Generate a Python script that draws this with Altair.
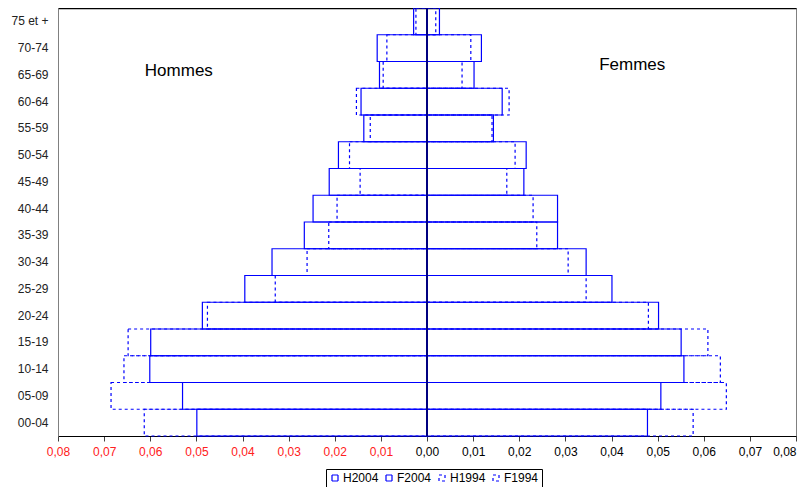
import altair as alt
import pandas as pd

ages = ["00-04", "05-09", "10-14", "15-19", "20-24", "25-29", "30-34", "35-39",
        "40-44", "45-49", "50-54", "55-59", "60-64", "65-69", "70-74", "75 et +"]
h2004 = [0.0499, 0.0530, 0.0601, 0.0599, 0.0487, 0.0395, 0.0336, 0.0266,
         0.0247, 0.0212, 0.0192, 0.0137, 0.0143, 0.0103, 0.0108, 0.0029]
f2004 = [0.0478, 0.0507, 0.0557, 0.0551, 0.0502, 0.0401, 0.0345, 0.0283,
         0.0283, 0.0210, 0.0215, 0.0144, 0.0163, 0.0102, 0.0118, 0.0027]
h1994 = [0.0613, 0.0685, 0.0657, 0.0648, 0.0476, 0.0329, 0.0260, 0.0213,
         0.0195, 0.0145, 0.0168, 0.0123, 0.0153, 0.0095, 0.0087, 0.0024]
f1994 = [0.0577, 0.0649, 0.0636, 0.0609, 0.0480, 0.0345, 0.0306, 0.0238,
         0.0230, 0.0173, 0.0191, 0.0141, 0.0178, 0.0076, 0.0095, 0.0019]
series = ["H2004", "F2004", "H1994", "F1994"]
tick_values = [-0.08, -0.07, -0.06, -0.05, -0.04, -0.03, -0.02, -0.01, 0.0,
               0.01, 0.02, 0.03, 0.04, 0.05, 0.06, 0.07, 0.08]
notes = ["Hommes", "Femmes"]
note_x = [-0.0538, 0.0445]
note_age = ["65-69", "65-69"]

rows = []
for name, vals, sign in [("H2004", h2004, -1), ("F2004", f2004, 1),
                         ("H1994", h1994, -1), ("F1994", f1994, 1)]:
    for a, v in zip(ages, vals):
        rows.append({"age": a, "series": name, "value": sign * v})
df = pd.DataFrame(rows)

FONT = "Liberation Sans"
xscale = alt.Scale(domain=[-0.08, 0.08], nice=False, zero=False)
yscale = alt.Scale(paddingInner=0, paddingOuter=0)
ysort = list(reversed(ages))

bars = alt.Chart(df).mark_bar(fill="white", fillOpacity=0).encode(
    x=alt.X("value:Q", scale=xscale, stack=None,
            axis=alt.Axis(values=tick_values, title=None, grid=False,
                          labelExpr="replace(format(abs(datum.value), '.2f'), '.', ',')",
                          labelColor={"condition": {"test": "datum.value < 0", "value": "#ff2020"},
                                      "value": "#000000"},
                          labelAlign={"condition": {"test": "datum.value > 0.0795", "value": "right"},
                                      "value": "center"},
                          labelFont=FONT, labelFontSize=12, domainColor="#000000",
                          tickColor="#404040", tickSize=5, labelPadding=5,
                          labelFlush=False)),
    y=alt.Y("age:N", sort=ysort, scale=yscale,
            axis=alt.Axis(title=None, ticks=False, domainColor="#808080",
                          labelFont=FONT, labelFontSize=12, labelColor="#222222",
                          labelPadding=10, minExtent=50, maxExtent=50)),
    stroke=alt.Stroke("series:N", sort=series,
                      scale=alt.Scale(domain=series,
                                      range=["#0000ff", "#0000ff", "#0000ff", "#0000ff"]),
                      legend=alt.Legend(title=None, orient="none", direction="horizontal",
                                        legendX=268, legendY=461, strokeColor="#000000",
                                        padding=3, labelFont=FONT, labelFontSize=12,
                                        symbolType="square", symbolSize=36,
                                        symbolStrokeWidth=1.5, symbolFillColor="white",
                                        columnPadding=4, labelOffset=2)),
    strokeDash=alt.StrokeDash("series:N", sort=series,
                              scale=alt.Scale(domain=series,
                                              range=[[1, 0], [1, 0], [3, 3], [3, 3]])),
    strokeWidth=alt.StrokeWidth("series:N", sort=series,
                                scale=alt.Scale(domain=series, range=[1.2, 1.2, 2.2, 2.2]),
                                legend=None),
    order=alt.Order("order:Q"),
).transform_calculate(order="indexof(['H2004','F2004','H1994','F1994'], datum.series)")

center = alt.Chart(pd.DataFrame({"x": [0.0]})).mark_rule(
    color="#000080", strokeWidth=2).encode(
    x=alt.X("x:Q", scale=xscale,
            axis=alt.Axis(orient="top", labels=False, ticks=False, title=None,
                          grid=False, domainColor="#000000", domainWidth=1.5))
)

ndf = pd.DataFrame({"label": notes, "x": note_x, "age": note_age})
text_h = alt.Chart(ndf[ndf.label == "Hommes"]).mark_text(
    font=FONT, fontSize=17, color="#000000", dy=-4).encode(
    x=alt.X("x:Q", scale=xscale, axis=None),
    y=alt.Y("age:N", sort=ysort, scale=yscale),
    text="label:N")
text_f = alt.Chart(ndf[ndf.label == "Femmes"]).mark_text(
    font=FONT, fontSize=17, color="#000000", dy=-10).encode(
    x=alt.X("x:Q", scale=xscale, axis=None),
    y=alt.Y("age:N", sort=ysort, scale=yscale),
    text="label:N")

chart = alt.layer(bars, center, text_h, text_f).resolve_axis(x="independent").properties(
    width=738, height=428,
    autosize=alt.AutoSizeParams(type="none"),
    padding={"left": 50, "top": 0, "right": 4, "bottom": 51},
    background="white",
).configure_view(stroke="#808080", strokeWidth=1)

chart.save("out.html", embed_options={"renderer": "svg", "actions": False})
